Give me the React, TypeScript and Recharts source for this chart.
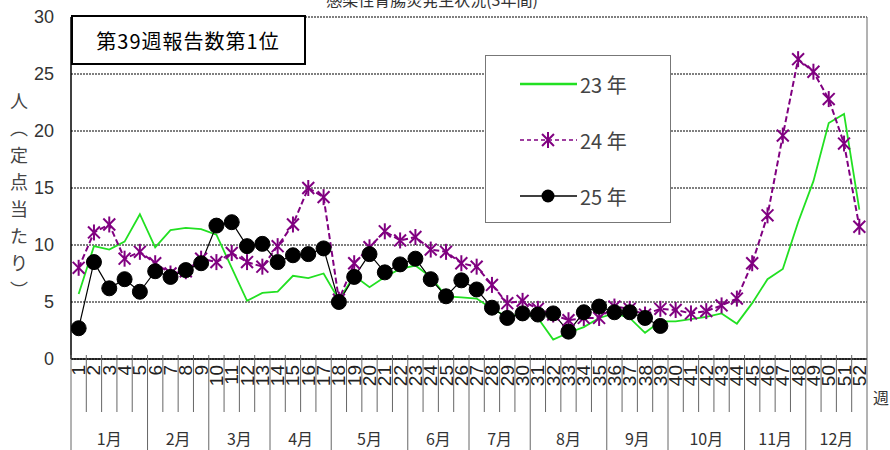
import React from 'react';
import { LineChart, Line, XAxis, YAxis, CartesianGrid, Legend, ReferenceLine, Customized } from 'recharts';

const weeks = [1, 2, 3, 4, 5, 6, 7, 8, 9, 10, 11, 12, 13, 14, 15, 16, 17, 18, 19, 20, 21, 22, 23, 24, 25, 26,
  27, 28, 29, 30, 31, 32, 33, 34, 35, 36, 37, 38, 39, 40, 41, 42, 43, 44, 45, 46, 47, 48, 49, 50, 51, 52];

const y23 = [5.7, 9.9, 9.6, 10.3, 12.7, 9.8, 11.3, 11.5, 11.4, 10.9, 8.0, 5.1, 5.8, 5.9, 7.3, 7.1, 7.5, 5.2, 7.3, 6.3,
  7.2, 7.9, 8.2, 7.2, 5.5, 5.4, 5.3, 4.4, 3.7, 4.0, 3.6, 1.7, 2.3, 2.8, 3.6, 4.0, 3.6, 2.3, 3.3, 3.3,
  3.5, 3.7, 4.0, 3.1, 4.9, 7.0, 7.9, 12.0, 15.6, 20.7, 21.5, 13.1];

const y24 = [8.0, 11.1, 11.8, 8.8, 9.4, 8.4, 7.5, 7.7, 8.8, 8.5, 9.3, 8.5, 8.1, 9.9, 11.8, 15.0, 14.2, 5.2, 8.4, 9.8,
  11.2, 10.4, 10.7, 9.6, 9.4, 8.4, 8.1, 6.5, 4.9, 5.1, 4.4, 3.9, 3.4, 3.6, 3.6, 4.6, 4.4, 3.9, 4.4, 4.3,
  4.0, 4.2, 4.7, 5.3, 8.4, 12.6, 19.6, 26.3, 25.2, 22.8, 18.9, 11.6];

const y25 = [2.7, 8.5, 6.2, 7.0, 5.9, 7.7, 7.2, 7.8, 8.4, 11.7, 12.0, 9.9, 10.1, 8.5, 9.1, 9.2, 9.7, 5.0, 7.2, 9.2,
  7.6, 8.3, 8.8, 7.0, 5.5, 6.9, 6.1, 4.5, 3.6, 4.0, 3.9, 4.0, 2.4, 4.1, 4.6, 4.1, 4.1, 3.6, 2.9];

const yTicks = [0, 5, 10, 15, 20, 25, 30];

const monthNames = ['1月', '2月', '3月', '4月', '5月', '6月', '7月', '8月', '9月', '10月', '11月', '12月'];
const monthWeeks = [5, 4, 4, 4, 5, 4, 4, 5, 4, 5, 4, 4];

const seriesNames = ['23 年', '24 年', '25 年'];

const title = '感染性胃腸炎発生状況(3年間)';
const yLabelChars = ['人', '︵', '定', '点', '当', 'た', 'り', '︶'];
const note = '第39週報告数第1位';
const xUnit = '週';

const data = weeks.map((w, i) => ({
  week: w,
  y23: y23[i],
  y24: y24[i],
  y25: i < y25.length ? y25[i] : null,
}));

const monthStarts: number[] = [];
{
  let s = 1;
  for (const n of monthWeeks) {
    monthStarts.push(s);
    s += n;
  }
}

const W = 890;
const H = 450;
const PLOT_L = 71;
const PLOT_R = 867;
const PLOT_T = 17;
const PLOT_B = 359;
const BAND = (PLOT_R - PLOT_L) / weeks.length;

const SANS = '"Liberation Sans", Arial, sans-serif';
const CJK = '"Noto Sans CJK JP", "Noto Sans", sans-serif';

const GREEN = '#22e022';
const PURPLE = '#800080';
const BLACK = '#000000';

function WeekTick(props: any) {
  const { x, payload } = props;
  const w = payload.value as number;
  const xb = x - BAND / 2;
  const mIdx = monthStarts.indexOf(w);
  const isStart = mIdx >= 0;
  return (
    <g>
      <line x1={xb} x2={xb} y1={PLOT_B - 4} y2={isStart ? H : 412} stroke="#666" strokeWidth={1} />
      {w === weeks[weeks.length - 1] && (
        <line x1={x + BAND / 2} x2={x + BAND / 2} y1={PLOT_T} y2={H} stroke="#666" strokeWidth={1} />
      )}
      <text
        x={x}
        y={365}
        transform={`rotate(-90 ${x} 365)`}
        textAnchor="end"
        dominantBaseline="central"
        fontSize={19}
        fontFamily={SANS}
        fill="#222"
      >
        {w}
      </text>
      {isStart && (
        <text
          x={x + ((monthWeeks[mIdx] - 1) * BAND) / 2}
          y={438}
          textAnchor="middle"
          dominantBaseline="central"
          fontSize={16}
          fontFamily={CJK}
          fill="#333"
        >
          {monthNames[mIdx]}
        </text>
      )}
    </g>
  );
}

function StarDot(props: any) {
  const { cx, cy } = props;
  if (cx == null || cy == null || props.value == null) return <g />;
  const r = 7;
  const d = r * 0.85;
  return (
    <g stroke={PURPLE} strokeWidth={2}>
      <line x1={cx} y1={cy - r - 1} x2={cx} y2={cy + r + 1} />
      <line x1={cx - d} y1={cy - d} x2={cx + d} y2={cy + d} />
      <line x1={cx - d} y1={cy + d} x2={cx + d} y2={cy - d} />
    </g>
  );
}

function CircleDot(props: any) {
  const { cx, cy } = props;
  if (cx == null || cy == null || props.value == null) return <g />;
  return <circle cx={cx} cy={cy} r={7.5} fill={BLACK} stroke={BLACK} />;
}

function LegendBox() {
  const rows = [
    { name: seriesNames[0], color: GREEN, dash: undefined, marker: 'none' },
    { name: seriesNames[1], color: PURPLE, dash: '4 3', marker: 'star' },
    { name: seriesNames[2], color: BLACK, dash: undefined, marker: 'circle' },
  ];
  return (
    <svg width={186} height={168} style={{ display: 'block' }}>
      <rect x={0.5} y={0.5} width={185} height={167} fill="#fff" stroke="#777" strokeWidth={1} />
      {rows.map((r, i) => {
        const cy = 29 + i * 56;
        return (
          <g key={r.name}>
            <line x1={35} x2={92} y1={cy} y2={cy} stroke={r.color} strokeWidth={r.marker === 'none' ? 2.5 : 1.5} strokeDasharray={r.dash} />
            {r.marker === 'star' && <StarDot cx={63} cy={cy} value={1} />}
            {r.marker === 'circle' && <circle cx={63} cy={cy} r={6.5} fill={BLACK} />}
            <text x={95} y={cy} dominantBaseline="central" fontSize={20} fontFamily={CJK} fill="#444">
              {r.name}
            </text>
          </g>
        );
      })}
    </svg>
  );
}

function Decor() {
  return (
    <g>
      <text x={432} y={6} textAnchor="middle" fontSize={16} fontFamily={CJK} fill="#333">
        {title}
      </text>
      {yLabelChars.map((c, i) => (
        <text key={i} x={19} y={100 + i * 27} textAnchor="middle" dominantBaseline="central" fontSize={18} fontFamily={CJK} fill="#444">
          {c}
        </text>
      ))}
      <rect x={72} y={16} width={233} height={48} fill="#fff" stroke="#000" strokeWidth={2} />
      <text x={188} y={40} textAnchor="middle" dominantBaseline="central" fontSize={20} fontFamily={CJK} fill="#000" letterSpacing={1}>
        {note}
      </text>
      <text x={873} y={397} dominantBaseline="central" fontSize={16} fontFamily={CJK} fill="#333">
        {xUnit}
      </text>
    </g>
  );
}

export default function App() {
  return (
    <div style={{ position: 'absolute', left: 0, top: 0, width: W, height: H, background: '#fff' }}>
      <LineChart width={W} height={H} data={data} margin={{ top: PLOT_T, right: W - PLOT_R, bottom: 0, left: 0 }}>
        <CartesianGrid vertical={false} stroke="#555" strokeWidth={1.5} strokeDasharray="2 1" />
        <XAxis
          type="number"
          dataKey="week"
          domain={[0.5, 52.5]}
          ticks={weeks}
          interval={0}
          allowDataOverflow
          height={H - PLOT_B}
          tickLine={false}
          axisLine={{ stroke: '#000', strokeWidth: 1.5 }}
          tick={<WeekTick />}
        />
        <YAxis
          type="number"
          domain={[0, 30]}
          ticks={yTicks}
          interval={0}
          width={PLOT_L}
          tickLine={false}
          tickSize={8}
          tickMargin={9}
          axisLine={{ stroke: '#000', strokeWidth: 1.5 }}
          tick={{ fill: '#333', fontSize: 18, fontFamily: SANS }}
        />
        <Line type="linear" dataKey="y23" name={seriesNames[0]} stroke={GREEN} strokeWidth={1.8} dot={false} activeDot={false} isAnimationActive={false} />
        <Line type="linear" dataKey="y24" name={seriesNames[1]} stroke={PURPLE} strokeWidth={2} strokeDasharray="6 3" dot={<StarDot />} activeDot={false} isAnimationActive={false} />
        <Line type="linear" dataKey="y25" name={seriesNames[2]} stroke={BLACK} strokeWidth={1.2} dot={<CircleDot />} activeDot={false} isAnimationActive={false} />
        <Legend
          layout="vertical"
          align="center"
          verticalAlign="middle"
          content={() => <LegendBox />}
          wrapperStyle={{ left: 485, top: 55, width: 186, height: 168 }}
        />
        <Customized component={Decor} />
      </LineChart>
    </div>
  );
}
